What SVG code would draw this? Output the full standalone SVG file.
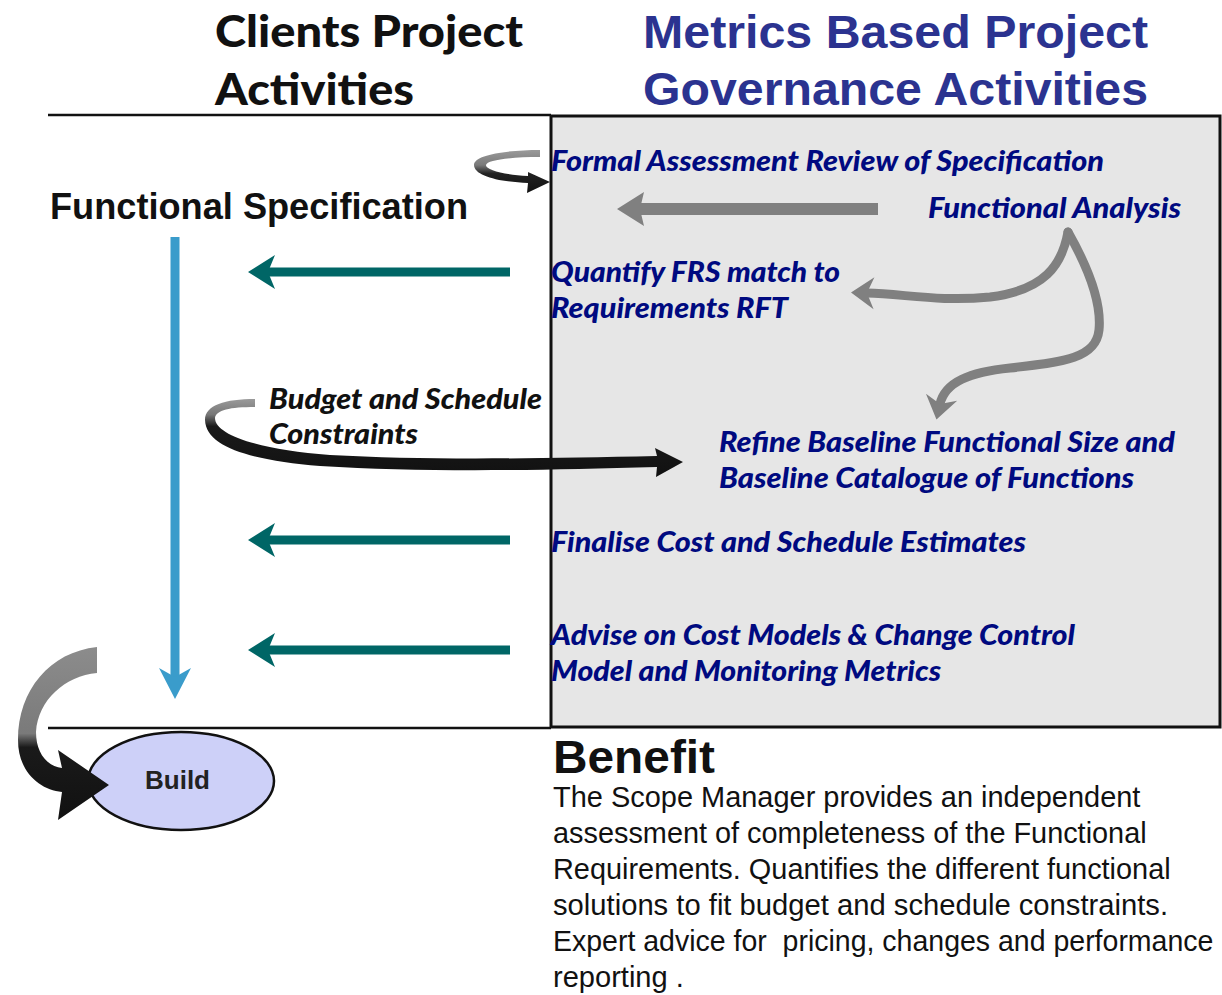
<svg xmlns="http://www.w3.org/2000/svg" width="1222" height="995" viewBox="0 0 1222 995">
<style>
.myb{font-family:Lato,"Open Sans","Liberation Sans",sans-serif;font-weight:900;}
.bi{font-family:Lato,"Open Sans","Liberation Sans",sans-serif;font-weight:900;font-style:italic;font-size:28px;}
.navy{fill:#000a80;}
.ar{font-family:"Liberation Sans",Arial,sans-serif;}
.body{font-family:"Liberation Sans",Arial,sans-serif;font-size:29px;fill:#111;}
.rule{stroke:#111;stroke-width:2.5;}
</style>
<defs>
<marker id="tealHead" markerUnits="userSpaceOnUse" markerWidth="30" markerHeight="38" viewBox="-28 -19 30 38" refX="-20" refY="0" orient="auto"><path d="M0,0 L-27,-17 L-20,0 L-27,17 Z" fill="#006666"/></marker>
<marker id="grayHead" markerUnits="userSpaceOnUse" markerWidth="30" markerHeight="38" viewBox="-28 -19 30 38" refX="-23" refY="0" orient="auto"><path d="M0,0 L-27,-17 L-23,0 L-27,17 Z" fill="#808080"/></marker>
<marker id="blueHead" markerUnits="userSpaceOnUse" markerWidth="34" markerHeight="36" viewBox="-32 -18 34 36" refX="-22" refY="0" orient="auto"><path d="M0,0 L-31,-16 L-22,0 L-31,16 Z" fill="#3a9ccb"/></marker>
<marker id="curveHead" markerUnits="userSpaceOnUse" markerWidth="28" markerHeight="36" viewBox="-26 -18 28 36" refX="-16" refY="0" orient="auto"><path d="M0,0 L-23,-16 L-16,0 L-23,16 Z" fill="#808080"/></marker>
<linearGradient id="gSmall" x1="0" y1="0" x2="0" y2="1"><stop offset="0" stop-color="#9a9a9a"/><stop offset="0.35" stop-color="#7a7a7a"/><stop offset="0.55" stop-color="#222"/><stop offset="1" stop-color="#111"/></linearGradient>
<linearGradient id="gBudget" x1="0" y1="0" x2="0" y2="1"><stop offset="0" stop-color="#9a9a9a"/><stop offset="0.2" stop-color="#777"/><stop offset="0.35" stop-color="#1a1a1a"/><stop offset="1" stop-color="#111"/></linearGradient>
<linearGradient id="gBuild" x1="0" y1="0" x2="0" y2="1"><stop offset="0" stop-color="#8c8c8c"/><stop offset="0.5" stop-color="#7a7a7a"/><stop offset="0.58" stop-color="#1a1a1a"/><stop offset="1" stop-color="#111"/></linearGradient>
</defs>

<rect id="governance-box" x="551" y="116" width="669" height="611" fill="#e6e6e6" stroke="#111" stroke-width="3"/>
<line class="rule" x1="48" y1="115" x2="551" y2="115"/>
<line class="rule" x1="48" y1="728" x2="551" y2="728"/>

<g id="title-clients">
<text class="myb" x="215" y="47" font-size="44" fill="#111" textLength="308" lengthAdjust="spacingAndGlyphs">Clients Project</text>
<text class="myb" x="215" y="105" font-size="44" fill="#111" textLength="199" lengthAdjust="spacingAndGlyphs">Activities</text>
</g>
<g id="title-metrics">
<text class="ar" x="643" y="48" font-size="46" font-weight="bold" fill="#2b3390" textLength="505" lengthAdjust="spacingAndGlyphs">Metrics Based Project</text>
<text class="ar" x="643" y="105" font-size="46" font-weight="bold" fill="#2b3390" textLength="505" lengthAdjust="spacingAndGlyphs">Governance Activities</text>
</g>

<g id="functional-specification">
<text class="ar" x="50" y="219" font-size="36" font-weight="bold" fill="#111" textLength="418" lengthAdjust="spacingAndGlyphs">Functional Specification</text>
</g>
<g id="formal-assessment">
<text class="bi navy" x="551" y="171" textLength="553" lengthAdjust="spacingAndGlyphs">Formal Assessment Review of Specification</text>
</g>
<g id="functional-analysis">
<text class="bi navy" x="928" y="218" textLength="253" lengthAdjust="spacingAndGlyphs">Functional Analysis</text>
</g>
<g id="quantify-frs">
<text class="bi navy" x="551" y="282" textLength="289" lengthAdjust="spacingAndGlyphs">Quantify FRS match to</text>
<text class="bi navy" x="551" y="318" textLength="237" lengthAdjust="spacingAndGlyphs">Requirements RFT</text>
</g>
<g id="budget-constraints">
<text class="bi" x="269" y="409" fill="#111" textLength="273" lengthAdjust="spacingAndGlyphs">Budget and Schedule</text>
<text class="bi" x="269" y="444" fill="#111" textLength="149" lengthAdjust="spacingAndGlyphs">Constraints</text>
</g>
<g id="refine-baseline">
<text class="bi navy" x="719" y="452" textLength="456" lengthAdjust="spacingAndGlyphs">Refine Baseline Functional Size and</text>
<text class="bi navy" x="719" y="488" textLength="415" lengthAdjust="spacingAndGlyphs">Baseline Catalogue of Functions</text>
</g>
<g id="finalise-cost">
<text class="bi navy" x="551" y="552" textLength="475" lengthAdjust="spacingAndGlyphs">Finalise Cost and Schedule Estimates</text>
</g>
<g id="advise-cost">
<text class="bi navy" x="551" y="645" textLength="524" lengthAdjust="spacingAndGlyphs">Advise on Cost Models &amp; Change Control</text>
<text class="bi navy" x="551" y="681" textLength="390" lengthAdjust="spacingAndGlyphs">Model and Monitoring Metrics</text>
</g>

<g id="build">
<ellipse cx="181" cy="781" rx="93" ry="49" fill="#cdd0f8" stroke="#111" stroke-width="2.5"/>
<text class="ar" x="145" y="789" font-size="25" font-weight="bold" fill="#222" textLength="65" lengthAdjust="spacingAndGlyphs">Build</text>
</g>

<g id="benefit">
<text class="ar" x="553" y="773" font-size="46" font-weight="bold" fill="#111" textLength="162" lengthAdjust="spacingAndGlyphs">Benefit</text>
<g transform="translate(553 0) scale(0.89 1)">
<text class="body" x="0" y="807" textLength="660" lengthAdjust="spacingAndGlyphs">The Scope Manager provides an independent</text>
<text class="body" x="0" y="843" textLength="667" lengthAdjust="spacingAndGlyphs">assessment of completeness of the Functional</text>
<text class="body" x="0" y="879" textLength="694" lengthAdjust="spacingAndGlyphs">Requirements. Quantifies the different functional</text>
<text class="body" x="0" y="915" textLength="691" lengthAdjust="spacingAndGlyphs">solutions to fit budget and schedule constraints.</text>
<text class="body" x="0" y="951" textLength="742" lengthAdjust="spacingAndGlyphs" xml:space="preserve">Expert advice for  pricing, changes and performance</text>
<text class="body" x="0" y="987" textLength="147" lengthAdjust="spacingAndGlyphs">reporting .</text>
</g>
</g>

<g id="connectors">
<line x1="878" y1="209" x2="640" y2="209" stroke="#808080" stroke-width="12" marker-end="url(#grayHead)"/>
<line x1="510" y1="272" x2="268" y2="272" stroke="#006666" stroke-width="9" marker-end="url(#tealHead)"/>
<line x1="510" y1="540" x2="268" y2="540" stroke="#006666" stroke-width="9" marker-end="url(#tealHead)"/>
<line x1="510" y1="650" x2="268" y2="650" stroke="#006666" stroke-width="9" marker-end="url(#tealHead)"/>
<line x1="175" y1="237" x2="175" y2="677" stroke="#3a9ccb" stroke-width="9" marker-end="url(#blueHead)"/>
<path d="M1068 232 C1062 265 1045 290 990 297 C940 302 905 294 867 293" fill="none" stroke="#808080" stroke-width="9" stroke-linecap="round" marker-end="url(#curveHead)"/>
<path d="M1068 232 C1085 262 1102 300 1099 330 C1096 358 1065 362 1010 368 C970 372 945 382 940 404" fill="none" stroke="#808080" stroke-width="9" stroke-linecap="round" marker-end="url(#curveHead)"/>
<path d="M540 150 C505 150 474 155 474 165 C474 176 500 182 528 183 L527 193 L550 182 L528 172 L528 176 C505 175 485 170 486 165 C487 160 510 157 540 157 Z" fill="url(#gSmall)"/>
<path d="M255 399 C225 399 205 405 205 420 C206 447 250 460 320 466 C420 472 520 471 657 467 L656 477 L683 462 L655 448 L657 456 C520 459 420 460 330 455 C260 450 215 435 215 418 C216 410 230 407 255 407 Z" fill="url(#gBudget)"/>
<path d="M97 647 C50 652 18 690 18 740 C18 772 40 790 62 792 L58 820 L109 785 L58 750 L62 768 C46 766 36 752 36 732 C38 700 65 676 97 673 Z" fill="url(#gBuild)"/>
</g>
</svg>
